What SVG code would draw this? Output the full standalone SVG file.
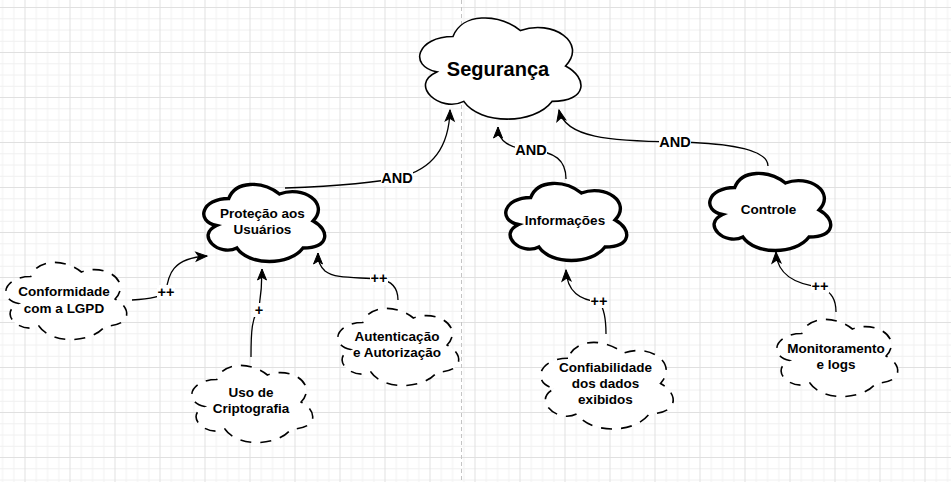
<svg xmlns="http://www.w3.org/2000/svg" width="951" height="482" viewBox="0 0 951 482">
<defs>
<pattern id="grid" x="24.5" y="7" width="45" height="45" patternUnits="userSpaceOnUse">
<path d="M11.75,0V45M23,0V45M34.25,0V45M0,11.75H45M0,23H45M0,34.25H45" stroke="#f0f0f0" stroke-width="1" fill="none"/>
<path d="M0.5,0V45M0,0.5H45" stroke="#e0e0e0" stroke-width="1" fill="none"/>
</pattern>
<marker id="arr" markerUnits="userSpaceOnUse" markerWidth="12" markerHeight="10" refX="11" refY="4.5" orient="auto" overflow="visible">
<path d="M0,0 L11,4.5 L0,9 L2.75,4.5 Z" fill="#000" stroke="#000" stroke-width="1" stroke-linejoin="miter"/>
</marker>
<style>
.cloud{fill:#fff;stroke:#000;}
.thin{stroke-width:1.6;}
.thick{stroke-width:3.4;}
.dash{stroke-width:1.6;stroke-dasharray:11 9;}
.t{font-family:"Liberation Sans",Arial,sans-serif;font-weight:bold;font-size:13.5px;text-anchor:middle;fill:#000;}
.big{font-size:20px;}
.lbl{font-family:"Liberation Sans",Arial,sans-serif;font-weight:bold;text-anchor:middle;fill:#000;}
.edge{fill:none;stroke:#000;stroke-width:1.3;marker-end:url(#arr);}
.bg{fill:#fff;}
</style>
</defs>
<rect x="0" y="0" width="951" height="482" fill="#fff"/>
<rect x="0" y="0" width="951" height="482" fill="url(#grid)"/>
<line x1="461.5" y1="0" x2="461.5" y2="482" stroke="#c4c4c4" stroke-width="1" stroke-dasharray="4 3"/>

<g id="connectors">
<path class="edge" d="M285,188 C340,186 380,182 400,177 C430,170 449,150 450,110"/>
<path class="edge" d="M566,179 C566,160 555,152 531,150 C510,148 498,142 498,127"/>
<path class="edge" d="M768,166 C768,150 730,143 675,142 C610,141 565,138 559,110"/>
<path class="edge" d="M132,300 C150,299 162,297 166,292 C168,275 172,258 207,256"/>
<path class="edge" d="M251,357 C251,330 252,318 259,308 C261,295 262,285 262,269"/>
<path class="edge" d="M398,300 C398,290 393,281 379,279 C355,277 335,279 325,271 C320,266 318,262 318,253"/>
<path class="edge" d="M606,334 C606,318 604,308 599,302 C580,300 567,292 566,270"/>
<path class="edge" d="M836,312 C836,300 832,292 820,287 C795,284 777,275 776,252"/>
<rect class="bg" x="381" y="170" width="32" height="16"/>
<text class="lbl" x="397" y="183" font-size="14.5">AND</text>
<rect class="bg" x="515" y="142" width="32" height="16"/>
<text class="lbl" x="531" y="155" font-size="14.5">AND</text>
<rect class="bg" x="659" y="134" width="32" height="16"/>
<text class="lbl" x="675" y="147" font-size="14.5">AND</text>
<rect class="bg" x="157" y="285" width="18" height="14"/>
<text class="lbl" x="166" y="297" font-size="14.5">++</text>
<rect class="bg" x="253" y="303" width="12" height="14"/>
<text class="lbl" x="259" y="315" font-size="14.5">+</text>
<rect class="bg" x="370" y="271" width="18" height="14"/>
<text class="lbl" x="379" y="283" font-size="14.5">++</text>
<rect class="bg" x="590" y="294" width="18" height="14"/>
<text class="lbl" x="599" y="306" font-size="14.5">++</text>
<rect class="bg" x="811" y="279" width="18" height="14"/>
<text class="lbl" x="820" y="291" font-size="14.5">++</text>
</g>

<g id="seguranca">
<path class="cloud thin" d="M453,36.5 C417,36.5 408,66 436.8,71.9 C408,84.9 440.4,113.2 463.8,101.4 C480,125 534,125 552,101.4 C588,101.4 588,77.8 565.5,66 C588,42.4 552,18.8 520.5,30.6 C498,12.9 462,12.9 453,36.5 Z"/>
<text class="t big" x="498" y="76">Segurança</text>
</g>

<g id="protecao">
<path class="cloud thick" d="M228.75,198.5 C201.75,198.5 195,221 216.6,225.5 C195,235.4 219.3,257 236.85,248 C249,266 289.5,266 303,248 C330,248 330,230 313.1,221 C330,203 303,185 279.4,194 C262.5,180.5 235.5,180.5 228.75,198.5 Z"/>
<text class="t" x="262.5" y="218">Proteção aos</text>
<text class="t" x="262.5" y="234">Usuários</text>
</g>

<g id="informacoes">
<path class="cloud thick" d="M530.75,197.5 C503.75,197.5 497,220 518.6,224.5 C497,234.4 521.3,256 538.85,247 C551,265 591.5,265 605,247 C632,247 632,229 615.1,220 C632,202 605,184 581.4,193 C564.5,179.5 537.5,179.5 530.75,197.5 Z"/>
<text class="t" x="565" y="225">Informações</text>
</g>

<g id="controle">
<path class="cloud thick" d="M734.75,187.5 C707.75,187.5 701,210 722.6,214.5 C701,224.4 725.3,246 742.85,237 C755,255 795.5,255 809,237 C836,237 836,219 819.1,210 C836,192 809,174 785.4,183 C768.5,169.5 741.5,169.5 734.75,187.5 Z"/>
<text class="t" x="768.5" y="214">Controle</text>
</g>

<g id="conformidade">
<path class="cloud dash" d="M30.75,276.5 C3.75,276.5 -3,299 18.6,303.5 C-3,313.4 21.3,335 38.85,326 C51,344 91.5,344 105,326 C132,326 132,308 115.1,299 C132,281 105,263 81.4,272 C64.5,258.5 37.5,258.5 30.75,276.5 Z"/>
<text class="t" x="64" y="296">Conformidade</text>
<text class="t" x="64" y="313">com a LGPD</text>
</g>

<g id="criptografia">
<path class="cloud dash" d="M216.75,379.5 C189.75,379.5 183,402 204.6,406.5 C183,416.4 207.3,438 224.85,429 C237,447 277.5,447 291,429 C318,429 318,411 301.1,402 C318,384 291,366 267.4,375 C250.5,361.5 223.5,361.5 216.75,379.5 Z"/>
<text class="t" x="251" y="397">Uso de</text>
<text class="t" x="251" y="413">Criptografia</text>
</g>

<g id="autenticacao">
<path class="cloud dash" d="M362.75,322.5 C335.75,322.5 329,345 350.6,349.5 C329,359.4 353.3,381 370.85,372 C383,390 423.5,390 437,372 C464,372 464,354 447.1,345 C464,327 437,309 413.4,318 C396.5,304.5 369.5,304.5 362.75,322.5 Z"/>
<text class="t" x="397" y="341">Autenticação</text>
<text class="t" x="397" y="357">e Autorização</text>
</g>

<g id="confiabilidade">
<path class="cloud dash" d="M568,358.25 C538.4,358.25 531,383.5 554.68,388.55 C531,399.66 557.64,423.9 576.88,413.8 C590.2,434 634.6,434 649.4,413.8 C679,413.8 679,393.6 660.5,383.5 C679,363.3 649.4,343.1 623.5,353.2 C605,338.05 575.4,338.05 568,358.25 Z"/>
<text class="t" x="605.5" y="372">Confiabilidade</text>
<text class="t" x="605.5" y="388">dos dados</text>
<text class="t" x="605.5" y="404">exibidos</text>
</g>

<g id="monitoramento">
<path class="cloud dash" d="M801.75,333.5 C774.75,333.5 768,356 789.6,360.5 C768,370.4 792.3,392 809.85,383 C822,401 862.5,401 876,383 C903,383 903,365 886.1,356 C903,338 876,320 852.4,329 C835.5,315.5 808.5,315.5 801.75,333.5 Z"/>
<text class="t" x="836" y="353">Monitoramento</text>
<text class="t" x="836" y="369">e logs</text>
</g>
</svg>
